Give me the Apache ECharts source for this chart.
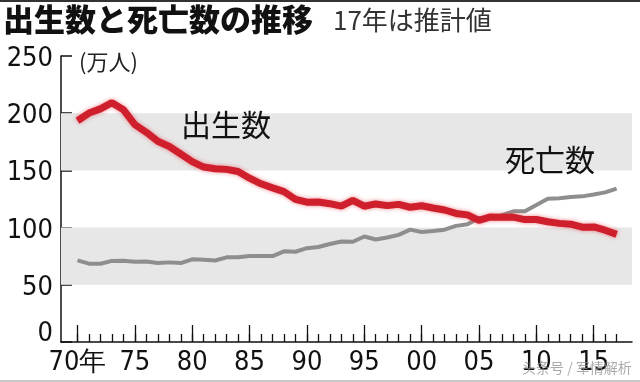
<!DOCTYPE html>
<html><head><meta charset="utf-8">
<script src="https://cdn.jsdelivr.net/npm/echarts@6/dist/echarts.min.js"></script>
<style>html,body{margin:0;padding:0;background:#fff}#c{width:640px;height:382px}</style>
</head><body><div id="c"></div>
<script>
const years = [1970,1971,1972,1973,1974,1975,1976,1977,1978,1979,1980,1981,1982,1983,1984,1985,1986,1987,1988,1989,1990,1991,1992,1993,1994,1995,1996,1997,1998,1999,2000,2001,2002,2003,2004,2005,2006,2007,2008,2009,2010,2011,2012,2013,2014,2015,2016,2017];
const births = [193.4,200.1,203.8,209.2,203.0,190.1,183.3,175.5,170.9,164.3,157.7,152.9,151.5,150.9,149.0,143.2,138.3,134.7,131.4,124.7,122.2,122.3,120.9,118.8,123.8,118.7,120.7,119.2,120.3,117.8,119.1,117.1,115.4,112.4,111.1,106.3,109.3,109.0,109.1,107.0,107.1,105.1,103.7,103.0,100.4,100.6,97.7,94.1];
const deaths = [71.3,68.5,68.4,70.9,71.1,70.2,70.3,69.0,69.6,69.0,72.3,72.0,71.2,74.0,74.0,75.2,75.1,75.1,79.3,78.9,82.0,83.0,85.7,87.9,87.6,92.2,89.6,91.3,93.6,98.2,96.2,97.0,98.2,101.5,102.9,108.4,108.4,110.9,114.2,114.2,119.7,125.3,125.6,126.8,127.3,129.0,130.8,134.0];
const majorYears = [1970,1975,1980,1985,1990,1995,2000,2005,2010,2015];
const xTickLabels = ['70年','75','80','85','90','95','00','05','10','15'];
const bands = [[50,100],[150,200]];

const numFont = "'Liberation Sans Narrow','DejaVu Sans Condensed',sans-serif";
const chart = echarts.init(document.getElementById('c'), null, {renderer:'canvas'});
const xMin = 1968.56, xMax = 2018.34;
const axisCommon = {type:'value', min:xMin, max:xMax, splitLine:{show:false}};
chart.setOption({
  animation:false,
  backgroundColor:'#fff',
  grid:{left:61, right:8, top:56, bottom:40},
  xAxis:[
    Object.assign({}, axisCommon, {
      axisLine:{show:true, onZero:false, lineStyle:{color:'#111', width:1.5}},
      axisTick:{show:true, inside:true, length:17, lineStyle:{color:'#111', width:1.3}, customValues:majorYears},
      axisLabel:{show:true, customValues:majorYears, margin:7, color:'#111', fontFamily:numFont, fontSize:27,
        formatter:(v)=>{const i=majorYears.indexOf(Math.round(v)); return i>=0?xTickLabels[i]:'';}}
    }),
    Object.assign({}, axisCommon, {
      position:'bottom',
      axisLine:{show:false},
      axisTick:{show:true, inside:true, length:8, lineStyle:{color:'#111', width:1.3}, customValues:years},
      axisLabel:{show:false}
    })
  ],
  yAxis:{type:'value', min:0, max:250, interval:50,
    axisLine:{show:true, lineStyle:{color:'#111', width:1.5}},
    axisTick:{show:true, inside:true, length:11, lineStyle:{color:'#111', width:1.5}},
    splitLine:{show:false},
    axisLabel:{margin:8, color:'#111', fontFamily:numFont, fontSize:27,
      formatter:(v)=> v===0 ? '{z|0}' : '{n|'+v+'}',
      rich:{n:{fontFamily:numFont, fontSize:27, color:'#111', padding:[6,0,0,0]},
            z:{fontFamily:numFont, fontSize:27, color:'#111', padding:[0,0,16,0]}}}
  },
  series:[
    {type:'line', name:'死亡数', data:years.map((y,i)=>[y,deaths[i]]), symbol:'none',
      lineStyle:{color:'#8e8e8e', width:4}, z:2,
      markArea:{silent:true, itemStyle:{color:'#e7e7e7'},
        data:bands.map(b=>[{yAxis:b[0]},{yAxis:b[1]}])}},
    {type:'line', name:'出生数', data:years.map((y,i)=>[y,births[i]]), symbol:'none',
      lineStyle:{color:'#cf1f2c', width:7, shadowColor:'rgba(230,60,70,0.6)', shadowBlur:4}, z:3}
  ],
  graphic:[
    {type:'rect', z:100, shape:{x:0,y:0,width:640,height:2}, style:{fill:'#333'}},
    {type:'rect', z:100, shape:{x:0,y:380,width:640,height:2}, style:{fill:'#c8c8c8'}},
    {type:'text', z:100, left:3, top:4, style:{text:'出生数と死亡数の推移', font:"900 31px 'Noto Sans CJK JP'", fill:'#111'}},
    {type:'text', z:100, left:333, top:7, style:{text:'17年は推計値', font:"400 26px 'Noto Sans CJK JP'", fill:'#333'}},
    {type:'text', z:100, left:79, top:51, style:{text:'(万人)', font:"400 22px 'Noto Sans CJK JP'", fill:'#222'}},
    {type:'text', z:100, left:181, top:110, style:{text:'出生数', font:"400 30px 'Noto Sans CJK JP'", fill:'#111'}},
    {type:'text', z:100, left:505, top:145, style:{text:'死亡数', font:"400 30px 'Noto Sans CJK JP'", fill:'#111'}},
    {type:'text', z:100, left:522, top:361, style:{text:'头条号 / 军情解析', font:"400 14px 'Noto Sans CJK SC'", fill:'rgba(140,140,140,0.75)'}}
  ]
});
</script></body></html>
